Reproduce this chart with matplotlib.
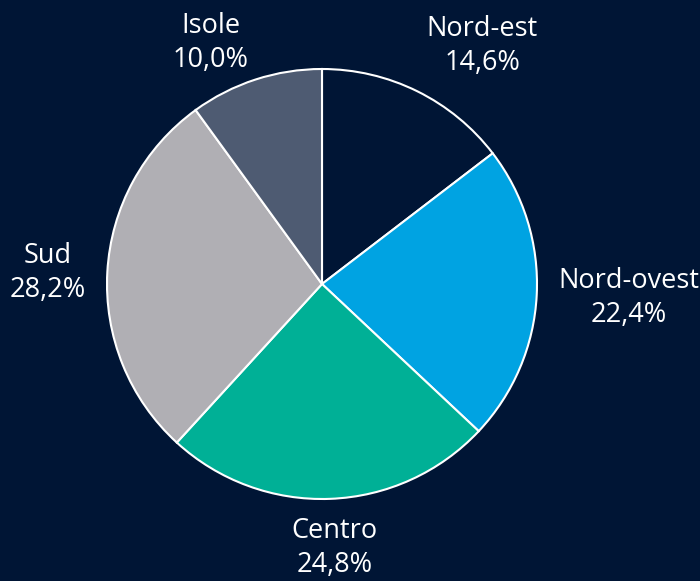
import numpy as np
import matplotlib
matplotlib.use("Agg")
import matplotlib.pyplot as plt
from matplotlib.transforms import offset_copy

# Data
regions = ["Nord-est", "Nord-ovest", "Centro", "Sud", "Isole"]
shares = [14.6, 22.4, 24.8, 28.2, 10.0]
colors = ["#001535", "#00a3e2", "#00b096", "#b0afb4", "#4e5b72"]

BG = "#001535"

plt.rcParams['font.family'] = ['Open Sans', 'DejaVu Sans']

fig = plt.figure(figsize=(7.0, 5.81), dpi=100, facecolor=BG)
# square axes, pie centre ~ (322, 284) px, radius ~215 px
ax = fig.add_axes([107 / 700, 82 / 581, 430 / 700, 430 / 581])
ax.set_facecolor(BG)

wedges, _ = ax.pie(shares, colors=colors, startangle=90, counterclock=False,
                   radius=1.0,
                   wedgeprops=dict(edgecolor="white", linewidth=1.5))
ax.set_xlim(-1, 1)
ax.set_ylim(-1, 1)
ax.set_aspect('equal')
ax.axis('off')

# labels just outside the rim, aligned away from the pie
for w, name, val in zip(wedges, regions, shares):
    mid = np.deg2rad((w.theta1 + w.theta2) / 2)
    c, s = np.cos(mid), np.sin(mid)
    x, y = 1.1 * c, 1.1 * s
    ha = 'center' if abs(c) < 0.15 else ('left' if c > 0 else 'right')
    if abs(s) < 0.3:
        va, dy, dx = 'center', -2, 0
    elif s > 0:
        # keep top labels inside the figure
        va, dy, dx = 'bottom', -5, 0
        y = min(y, 1.0)
    else:
        # bottom label sits right on the lower edge
        va, dy, dx = 'top', 3, 4
    txt = f"{name}\n{val:.1f}%".replace(".", ",")
    tr = offset_copy(ax.transData, fig=fig, x=dx, y=dy, units='dots')
    ax.text(x, y, txt, ha=ha, va=va, multialignment='center', transform=tr,
            color="white", fontsize=19.5, linespacing=1.28, clip_on=False)

fig.savefig("out.png", dpi=100, facecolor=BG)
